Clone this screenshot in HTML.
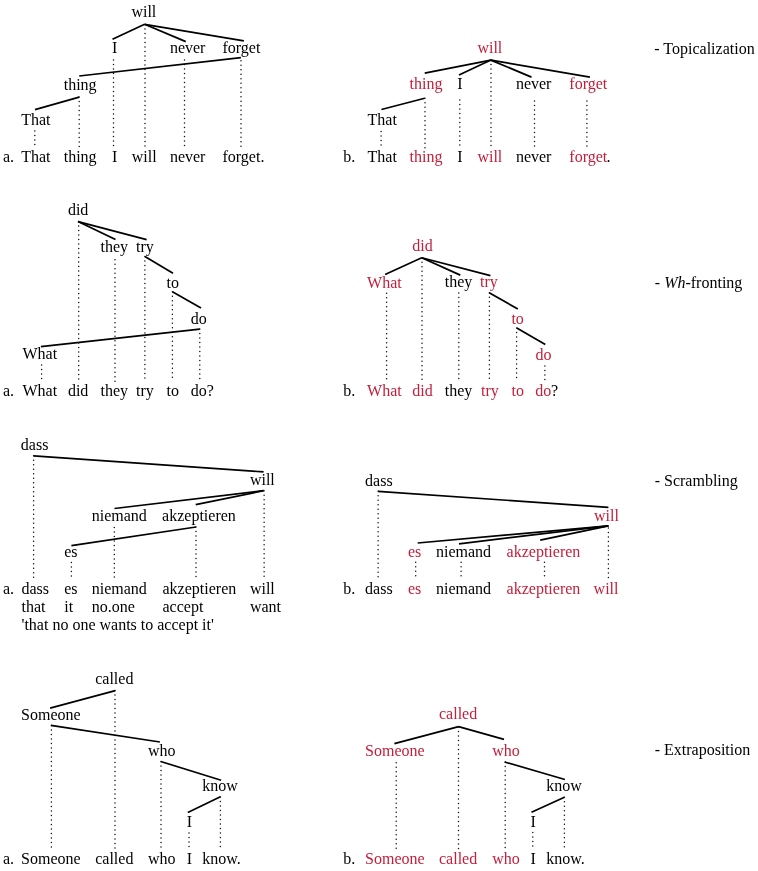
<!DOCTYPE html>
<html lang="en">
<head>
<meta charset="utf-8">
<title>Discontinuities in dependency trees</title>
<style>
html,body{margin:0;padding:0;background:#ffffff;}
body{width:758px;height:871px;overflow:hidden;}
svg{display:block;will-change:transform;}
text{font-family:"Liberation Serif","Times New Roman",Times,serif;font-size:16px;fill:#000000;}
text.r{fill:#c41e3a;}
.s line{stroke:#000;stroke-width:1.7;stroke-linecap:butt;}
.d line{stroke:#111;stroke-width:1.5;stroke-linecap:round;stroke-dasharray:0 4.5;}
</style>
</head>
<body>
<svg width="758" height="871" viewBox="0 0 758 871">
<rect width="758" height="871" fill="#ffffff"/>

<g class="d">
<line x1="113.5" y1="60.0" x2="113.5" y2="148.0"/>
<line x1="145.0" y1="24.6" x2="145.0" y2="148.0"/>
<line x1="184.5" y1="60.0" x2="184.5" y2="148.0"/>
<line x1="241.0" y1="60.7" x2="241.0" y2="148.0"/>
<line x1="79.2" y1="97.1" x2="79.2" y2="148.0"/>
<line x1="34.8" y1="131.0" x2="34.8" y2="148.0"/>
<line x1="425.0" y1="98.2" x2="425.0" y2="148.0"/>
<line x1="459.8" y1="100.0" x2="459.8" y2="148.0"/>
<line x1="491.0" y1="60.1" x2="491.0" y2="148.0"/>
<line x1="534.5" y1="101.0" x2="534.5" y2="148.0"/>
<line x1="586.9" y1="101.0" x2="586.9" y2="148.0"/>
<line x1="381.1" y1="131.4" x2="381.1" y2="148.0"/>
<line x1="78.7" y1="221.6" x2="78.7" y2="381.6"/>
<line x1="115.0" y1="259.7" x2="115.0" y2="381.6"/>
<line x1="144.9" y1="256.4" x2="144.9" y2="381.6"/>
<line x1="172.4" y1="291.8" x2="172.4" y2="381.6"/>
<line x1="199.8" y1="329.1" x2="199.8" y2="381.6"/>
<line x1="41.6" y1="365.0" x2="41.6" y2="381.6"/>
<line x1="386.6" y1="293.2" x2="386.6" y2="381.6"/>
<line x1="422.0" y1="257.8" x2="422.0" y2="381.6"/>
<line x1="458.8" y1="293.0" x2="458.8" y2="381.6"/>
<line x1="489.4" y1="292.7" x2="489.4" y2="381.6"/>
<line x1="516.6" y1="328.0" x2="516.6" y2="381.6"/>
<line x1="544.9" y1="366.0" x2="544.9" y2="381.6"/>
<line x1="33.6" y1="455.8" x2="33.6" y2="579.9"/>
<line x1="264.1" y1="490.7" x2="264.1" y2="579.9"/>
<line x1="114.3" y1="527.5" x2="114.3" y2="579.9"/>
<line x1="196.0" y1="527.0" x2="196.0" y2="579.9"/>
<line x1="71.4" y1="562.6" x2="71.4" y2="579.9"/>
<line x1="378.1" y1="491.3" x2="378.1" y2="579.9"/>
<line x1="415.7" y1="562.3" x2="415.7" y2="579.9"/>
<line x1="461.1" y1="562.3" x2="461.1" y2="579.9"/>
<line x1="544.5" y1="562.3" x2="544.5" y2="579.9"/>
<line x1="608.4" y1="528.0" x2="608.4" y2="579.9"/>
<line x1="115.0" y1="690.6" x2="115.0" y2="850.0"/>
<line x1="51.4" y1="725.4" x2="51.4" y2="850.0"/>
<line x1="161.0" y1="761.5" x2="161.0" y2="850.0"/>
<line x1="220.4" y1="797.0" x2="220.4" y2="850.0"/>
<line x1="189.0" y1="833.0" x2="189.0" y2="850.0"/>
<line x1="458.5" y1="727.0" x2="458.5" y2="850.0"/>
<line x1="396.2" y1="762.7" x2="396.2" y2="850.0"/>
<line x1="505.2" y1="762.0" x2="505.2" y2="850.0"/>
<line x1="564.4" y1="797.3" x2="564.4" y2="850.0"/>
<line x1="532.8" y1="832.4" x2="532.8" y2="850.0"/>
</g>
<g class="s">
<line x1="144.6" y1="24.3" x2="112.5" y2="39.3"/>
<line x1="144.6" y1="24.3" x2="185.8" y2="41.6"/>
<line x1="144.6" y1="24.3" x2="243.9" y2="40.9"/>
<line x1="240.9" y1="57.6" x2="79.2" y2="76.0"/>
<line x1="79.2" y1="97.1" x2="35.0" y2="109.6"/>
<line x1="490.9" y1="60.1" x2="424.7" y2="73.1"/>
<line x1="490.9" y1="60.1" x2="459.0" y2="75.1"/>
<line x1="490.9" y1="60.1" x2="531.5" y2="77.1"/>
<line x1="490.9" y1="60.1" x2="589.9" y2="77.1"/>
<line x1="424.7" y1="98.2" x2="381.4" y2="109.5"/>
<line x1="78.0" y1="221.6" x2="115.5" y2="239.6"/>
<line x1="78.0" y1="221.6" x2="146.6" y2="239.6"/>
<line x1="144.9" y1="256.4" x2="173.0" y2="273.2"/>
<line x1="172.4" y1="291.8" x2="201.0" y2="308.0"/>
<line x1="199.8" y1="329.1" x2="40.9" y2="346.7"/>
<line x1="421.7" y1="257.8" x2="385.1" y2="274.4"/>
<line x1="421.7" y1="257.8" x2="460.3" y2="275.1"/>
<line x1="421.7" y1="257.8" x2="490.4" y2="275.6"/>
<line x1="489.2" y1="292.7" x2="517.8" y2="309.0"/>
<line x1="516.8" y1="328.0" x2="545.3" y2="344.4"/>
<line x1="33.6" y1="455.8" x2="263.6" y2="471.9"/>
<line x1="263.6" y1="490.7" x2="114.5" y2="508.5"/>
<line x1="263.6" y1="490.7" x2="195.7" y2="504.7"/>
<line x1="196.0" y1="527.0" x2="71.4" y2="545.6"/>
<line x1="378.1" y1="491.3" x2="608.4" y2="507.4"/>
<line x1="608.4" y1="525.9" x2="417.7" y2="543.0"/>
<line x1="608.4" y1="525.9" x2="459.0" y2="543.8"/>
<line x1="608.4" y1="525.9" x2="540.2" y2="540.2"/>
<line x1="115.3" y1="690.6" x2="50.1" y2="708.1"/>
<line x1="50.9" y1="725.4" x2="159.9" y2="742.0"/>
<line x1="160.7" y1="761.5" x2="221.1" y2="780.3"/>
<line x1="220.4" y1="796.8" x2="187.8" y2="812.4"/>
<line x1="458.6" y1="726.6" x2="394.4" y2="743.6"/>
<line x1="458.6" y1="726.6" x2="504.0" y2="739.4"/>
<line x1="504.7" y1="762.0" x2="564.9" y2="779.5"/>
<line x1="564.4" y1="797.3" x2="531.5" y2="812.3"/>
</g>
<g>
<text x="131.4" y="17.1">will</text>
<text x="112.0" y="53.3">I</text>
<text x="169.9" y="53.3">never</text>
<text x="222.5" y="53.3">forget</text>
<text x="63.7" y="89.7">thing</text>
<text x="21.2" y="125.4">That</text>
<text x="3.0" y="162.1">a.</text>
<text x="21.2" y="162.1">That</text>
<text x="63.7" y="162.1">thing</text>
<text x="112.0" y="162.1">I</text>
<text x="131.8" y="162.1">will</text>
<text x="169.9" y="162.1">never</text>
<text x="222.5" y="162.1">forget.</text>
<text x="477.4" y="52.9" class="r">will</text>
<text x="409.5" y="89.3" class="r">thing</text>
<text x="457.3" y="89.3">I</text>
<text x="515.9" y="89.3">never</text>
<text x="569.3" y="89.3" class="r">forget</text>
<text x="367.5" y="124.5">That</text>
<text x="343.3" y="162.1">b.</text>
<text x="367.5" y="162.1">That</text>
<text x="409.5" y="162.1" class="r">thing</text>
<text x="457.3" y="162.1">I</text>
<text x="477.4" y="162.1" class="r">will</text>
<text x="515.9" y="162.1">never</text>
<text x="569.3" y="162.1" class="r">forget</text>
<text x="606.4" y="162.1">.</text>
<text x="654.3" y="54.0">- Topicalization</text>
<text x="67.9" y="214.8">did</text>
<text x="100.5" y="251.7">they</text>
<text x="136.1" y="251.7">try</text>
<text x="166.5" y="287.9">to</text>
<text x="190.8" y="323.8">do</text>
<text x="22.5" y="359.0">What</text>
<text x="3.0" y="395.8">a.</text>
<text x="22.5" y="395.8">What</text>
<text x="67.9" y="395.8">did</text>
<text x="100.5" y="395.8">they</text>
<text x="136.1" y="395.8">try</text>
<text x="166.5" y="395.8">to</text>
<text x="190.8" y="395.8">do?</text>
<text x="412.2" y="250.9" class="r">did</text>
<text x="367.1" y="287.6" class="r">What</text>
<text x="444.8" y="287.2">they</text>
<text x="480.1" y="287.2" class="r">try</text>
<text x="511.4" y="323.5" class="r">to</text>
<text x="535.5" y="359.7" class="r">do</text>
<text x="343.3" y="395.8">b.</text>
<text x="367.1" y="395.8" class="r">What</text>
<text x="412.2" y="395.8" class="r">did</text>
<text x="444.8" y="395.8">they</text>
<text x="481.1" y="395.8" class="r">try</text>
<text x="511.5" y="395.8" class="r">to</text>
<text x="535.3" y="395.8" class="r">do</text>
<text x="551.1" y="395.8">?</text>
<text x="654.8" y="287.6"><tspan font-style="italic">- Wh</tspan>-fronting</text>
<text x="20.8" y="449.6">dass</text>
<text x="249.9" y="485.2">will</text>
<text x="91.7" y="520.9">niemand</text>
<text x="162.1" y="520.9">akzeptieren</text>
<text x="64.2" y="556.9">es</text>
<text x="3.0" y="594.2">a.</text>
<text x="21.5" y="594.2">dass</text>
<text x="64.2" y="594.2">es</text>
<text x="91.7" y="594.2">niemand</text>
<text x="162.5" y="594.2">akzeptieren</text>
<text x="249.9" y="594.2">will</text>
<text x="21.5" y="611.9">that</text>
<text x="64.2" y="611.9">it</text>
<text x="91.7" y="611.9">no.one</text>
<text x="162.5" y="611.9">accept</text>
<text x="249.9" y="611.9">want</text>
<text x="21.5" y="629.8">&#39;that no one wants to accept it&#39;</text>
<text x="365.1" y="485.9">dass</text>
<text x="594.0" y="520.6" class="r">will</text>
<text x="407.9" y="556.8" class="r">es</text>
<text x="436.0" y="556.8">niemand</text>
<text x="506.6" y="556.8" class="r">akzeptieren</text>
<text x="343.3" y="593.8">b.</text>
<text x="365.1" y="593.8">dass</text>
<text x="407.9" y="593.8" class="r">es</text>
<text x="436.0" y="593.8">niemand</text>
<text x="506.6" y="593.8" class="r">akzeptieren</text>
<text x="593.6" y="593.8" class="r">will</text>
<text x="654.7" y="485.5">- Scrambling</text>
<text x="95.2" y="683.6">called</text>
<text x="21.1" y="719.7">Someone</text>
<text x="147.9" y="755.5">who</text>
<text x="202.3" y="791.0">know</text>
<text x="186.8" y="827.2">I</text>
<text x="3.0" y="864.4">a.</text>
<text x="21.1" y="864.4">Someone</text>
<text x="95.2" y="864.4">called</text>
<text x="147.9" y="864.4">who</text>
<text x="186.8" y="864.4">I</text>
<text x="202.3" y="864.4">know.</text>
<text x="439.0" y="719.1" class="r">called</text>
<text x="365.1" y="755.5" class="r">Someone</text>
<text x="492.2" y="755.5" class="r">who</text>
<text x="546.3" y="790.7">know</text>
<text x="530.5" y="826.6">I</text>
<text x="343.3" y="864.4">b.</text>
<text x="365.1" y="864.4" class="r">Someone</text>
<text x="439.0" y="864.4" class="r">called</text>
<text x="492.2" y="864.4" class="r">who</text>
<text x="530.5" y="864.4">I</text>
<text x="546.3" y="864.4">know.</text>
<text x="654.7" y="755.3">- Extraposition</text>
</g>
</svg>
</body>
</html>
